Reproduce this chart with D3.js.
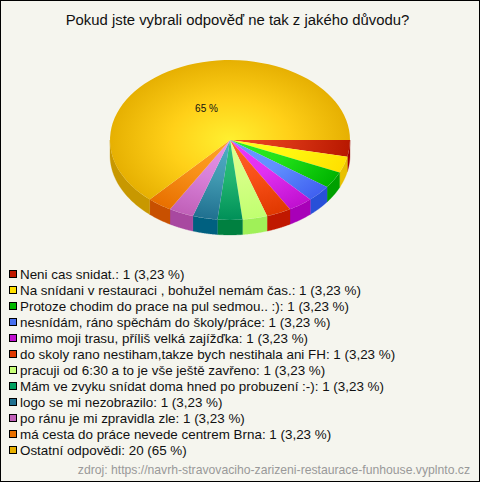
<!DOCTYPE html>
<html><head><meta charset="utf-8">
<script src="https://cdnjs.cloudflare.com/ajax/libs/d3/7.8.5/d3.min.js"></script>
<style>html,body{margin:0;padding:0;background:#f5f5ee}svg{display:block}</style>
</head><body><svg id="c" width="480" height="482"></svg>
<script>
const title = "Pokud jste vybrali odpověď ne tak z jakého důvodu?";
const source = "zdroj: https://navrh-stravovaciho-zarizeni-restaurace-funhouse.vyplnto.cz";
const categories = ["Neni cas snidat.","Na snídani v restauraci , bohužel nemám čas.","Protoze chodim do prace na pul sedmou.. :)","nesnídám, ráno spěchám do školy/práce","mimo moji trasu, příliš velká zajížďka","do skoly rano nestiham,takze bych nestihala ani FH","pracuji od 6:30 a to je vše ještě zavřeno","Mám ve zvyku snídat doma hned po probuzení :-)","logo se mi nezobrazilo","po ránu je mi zpravidla zle","má cesta do práce nevede centrem Brna","Ostatní odpovědi"];
// counts printed in the legend
const counts = [1,1,1,1,1,1,1,1,1,1,1,20];
const percents = ["3,23 %","3,23 %","3,23 %","3,23 %","3,23 %","3,23 %","3,23 %","3,23 %","3,23 %","3,23 %","3,23 %","65 %"];
// slice shares (each small slice spans 12 degrees, the large one 228)
const sliceShares = [1,1,1,1,1,1,1,1,1,1,1,19];
const innerColors = ["#f04a24","#ffff20","#30f028","#6a98ff","#f038ff","#ff6428","#e0ff90","#30c484","#50b0c8","#e898e8","#ffa428","#fff030"];
const midColors = ["#d83414","#fff810","#20e018","#6090ff","#e030f0","#f85018","#d4ff84","#20b470","#4098b0","#d880d8","#f89018","#ffd018"];
const outerColors = ["#b81800","#ffe000","#00b400","#4060f0","#c010d0","#e03800","#c0ff70","#009058","#207090","#c060b8","#e87000","#e6b002"];
const sideColors = ["#a00000","#e8c000","#00a000","#2850d8","#a800b8","#c01800","#a0f058","#008040","#006080","#a848a0","#c85000","#c89800"];
const legendColors = ["#c01800","#ffe000","#00b800","#4870f0","#c010d0","#e03800","#c8ff78","#00a060","#207090","#c060b8","#e87000","#e8b000"];

const W = 480, H = 482, cx = 230, cy = 140, R = 120, squash = 2/3, depth = 15;
const svg = d3.select("#c");
svg.append("rect").attr("x",0.5).attr("y",0.5).attr("width",W-1).attr("height",H-1).attr("fill","#f5f5ee").attr("stroke","#000");
svg.append("text").attr("x",237.5).attr("y",25).attr("text-anchor","middle")
  .attr("font-family","Liberation Sans").attr("font-size",14.86).attr("fill","#111").text(title);

const arcs = d3.pie().sort(null).startAngle(Math.PI/2).endAngle(Math.PI/2+2*Math.PI)(sliceShares);
const arcGen = d3.arc().innerRadius(0).outerRadius(R);
const defs = svg.append("defs");
arcs.forEach((a,i)=>{
  const g = defs.append("radialGradient").attr("id","g"+i).attr("gradientUnits","userSpaceOnUse")
    .attr("cx",0).attr("cy",0).attr("r",R);
  g.append("stop").attr("offset","0%").attr("stop-color",innerColors[i]);
  g.append("stop").attr("offset","50%").attr("stop-color",midColors[i]);
  g.append("stop").attr("offset","100%").attr("stop-color",outerColors[i]);
});
const px = (a,r)=>r*Math.sin(a), py=(a,r)=>-r*Math.cos(a)*squash;
const pie = svg.append("g").attr("transform",`translate(${cx},${cy})`);
// side walls (front half only)
const front0 = Math.PI/2, front1 = 3*Math.PI/2;
const line = d3.line();
arcs.forEach((a,i)=>{
  const s = Math.max(a.startAngle,front0), e = Math.min(a.endAngle,front1);
  if(e<=s) return;
  const ang = d3.range(0,41).map(k=>s+(e-s)*k/40);
  const pts = ang.map(t=>[px(t,R),py(t,R)]).concat(ang.slice().reverse().map(t=>[px(t,R),py(t,R)+depth]));
  pie.append("path").attr("d",line(pts)+"Z").attr("fill",sideColors[i]).attr("stroke",sideColors[i]).attr("stroke-width",0.3);
});
// top faces
const face = pie.append("g").attr("transform",`scale(1,${squash})`);
face.selectAll("path").data(arcs).join("path").attr("d",arcGen)
  .attr("fill",(d,i)=>`url(#g${i})`);
// label
svg.append("text").attr("x",206.5).attr("y",111.5).attr("text-anchor","middle")
  .attr("font-family","Liberation Sans").attr("font-size",10).attr("fill","#111").text(percents[11]);
// legend
const y = d3.scalePoint().domain(d3.range(categories.length)).range([274,450]);
const lg = svg.append("g").selectAll("g").data(categories).join("g").attr("transform",(d,i)=>`translate(0,${y(i)})`);
lg.append("rect").attr("x",9.5).attr("y",-3.5).attr("width",7).attr("height",7).attr("stroke","#000").attr("fill",(d,i)=>legendColors[i]);
lg.append("text").attr("x",20).attr("y",5).attr("font-family","Liberation Sans").attr("font-size",13.4).attr("fill","#111")
  .text((d,i)=>`${d}: ${counts[i]} (${percents[i]})`);
svg.append("text").attr("x",470).attr("y",474).attr("text-anchor","end").attr("font-family","Liberation Sans")
  .attr("font-size",12.2).attr("fill","#999").text(source);
</script></body></html>
